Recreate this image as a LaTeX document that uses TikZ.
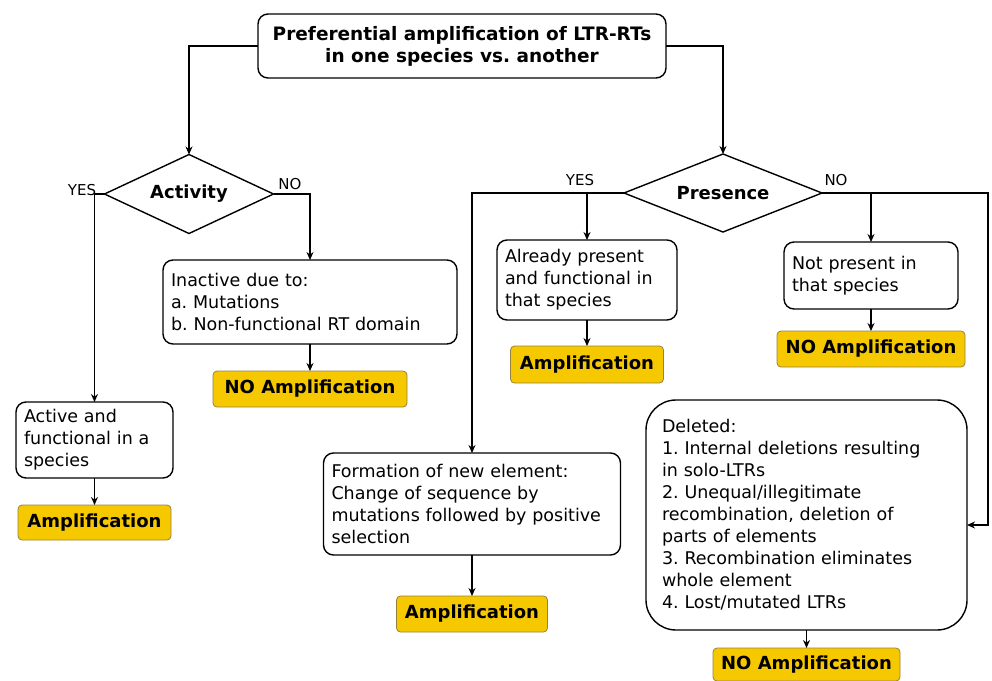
\documentclass[tikz,border=0pt]{standalone}
\usepackage{fontspec}
\setmainfont{DejaVu Sans}
\usetikzlibrary{shapes.geometric,arrows.meta}
\definecolor{ampfill}{RGB}{246,200,0}
\definecolor{ampedge}{RGB}{150,130,60}
\frenchspacing
\begin{document}
\begin{tikzpicture}[x=1pt,y=-1pt,
  line width=1.4pt,
  box/.style={draw, rounded corners=10pt, align=left, inner xsep=8pt, inner ysep=0pt, outer sep=0pt, font=\fontsize{17.5}{22}\selectfont},
  ampbox/.style={draw=ampedge, line width=0.8pt, fill=ampfill, rounded corners=4pt, inner sep=0pt, outer sep=0pt, font=\bfseries\fontsize{18}{20}\selectfont},
  dec/.style={draw, shape=diamond, inner sep=0pt, outer sep=0pt, font=\bfseries\fontsize{18}{20}\selectfont},
  arr/.style={-{Stealth[length=8pt,width=7pt]}},
  lbl/.style={inner sep=0pt, font=\fontsize{15}{17}\selectfont}
]
\useasboundingbox (0,0) rectangle (992,680);

% title
\node[box, align=center, minimum width=408pt, minimum height=64pt, font=\bfseries\fontsize{18.5}{22}\selectfont] (title) at (462,46)
  {Preferential amplification of LTR-RTs\\in one species vs. another};

% decisions
\node[dec, shape aspect=2.14, minimum width=169pt, minimum height=79pt] (act) at (189,194) {Activity};
\node[dec, shape aspect=2.54, minimum width=198pt, minimum height=78pt] (pres) at (723,193) {Presence};

% left branch
\node[box, minimum width=157pt, minimum height=76pt, text width=141pt] (active) at (94.5,440)
  {Active and\\functional in a\\species};
\node[ampbox, minimum width=153pt, minimum height=35pt] (amp1) at (94.5,522.5) {Amplification};

\node[box, minimum width=294pt, minimum height=84pt, text width=278pt] (inactive) at (310,302)
  {Inactive due to:\\a. Mutations\\\mbox{b. Non-functional RT domain}};
\node[ampbox, minimum width=194pt, minimum height=36pt] (noamp1) at (310,389) {NO Amplification};

% presence yes
\node[box, minimum width=180pt, minimum height=80pt, text width=164pt] (already) at (587,280)
  {Already present\\\mbox{and functional in}\\that species};
\node[ampbox, minimum width=153pt, minimum height=37pt] (amp2) at (587,364.5) {Amplification};

\node[box, minimum width=297pt, minimum height=102pt, text width=281pt] (formation) at (472,504)
  {\mbox{Formation of new element:}\\Change of sequence by\\\mbox{mutations followed by positive}\\selection};
\node[ampbox, minimum width=151pt, minimum height=36pt] (amp4) at (472,614) {Amplification};

% presence no
\node[box, minimum width=174pt, minimum height=67pt, text width=158pt] (notpres) at (871,275.5)
  {Not present in\\that species};
\node[ampbox, minimum width=188pt, minimum height=36pt] (amp3) at (871,349) {NO Amplification};

\node[box, rounded corners=30pt, inner xsep=16pt, minimum width=321pt, minimum height=230pt, text width=289pt] (deleted) at (806.5,515)
  {Deleted:\\\mbox{1. Internal deletions resulting}\\in solo-LTRs\\2. Unequal/illegitimate\\recombination, deletion of\\parts of elements\\\mbox{3. Recombination eliminates}\\whole element\\4. Lost/mutated LTRs};
\node[ampbox, minimum width=187pt, minimum height=33pt] (noamp3) at (806.5,664.5) {NO Amplification};

% labels
\node[lbl] (yes1) at (82,190) {YES};
\node[lbl] (no1) at (290,184) {NO};
\node[lbl] (yes2) at (580,180) {YES};
\node[lbl] (no2) at (836,180) {NO};

% connectors
\draw[arr] (title.west) -| (act.north);
\draw[arr] (title.east) -| (pres.north);
\draw[arr] (act.west) -| (active.north);
\draw[arr] (act.east) -| (inactive.north);
\draw[arr] (active.south) -- (amp1.north);
\draw[arr] (inactive.south) -- (noamp1.north);
\draw[arr] (pres.west) -| (formation.north);
\draw[arr] (already.north |- pres.west) -- (already.north);
\draw[arr] (already.south) -- (amp2.north);
\draw[arr] (formation.south) -- (amp4.north);
\coordinate (nocorner) at (988,193);
\draw[arr] (pres.east) -- (nocorner) |- ([yshift=-10pt]deleted.east);
\draw[arr] (notpres.north |- pres.east) -- (notpres.north);
\draw[arr] (notpres.south) -- (amp3.north);
\draw[arr] (deleted.south) -- (noamp3.north);
\end{tikzpicture}
\end{document}
